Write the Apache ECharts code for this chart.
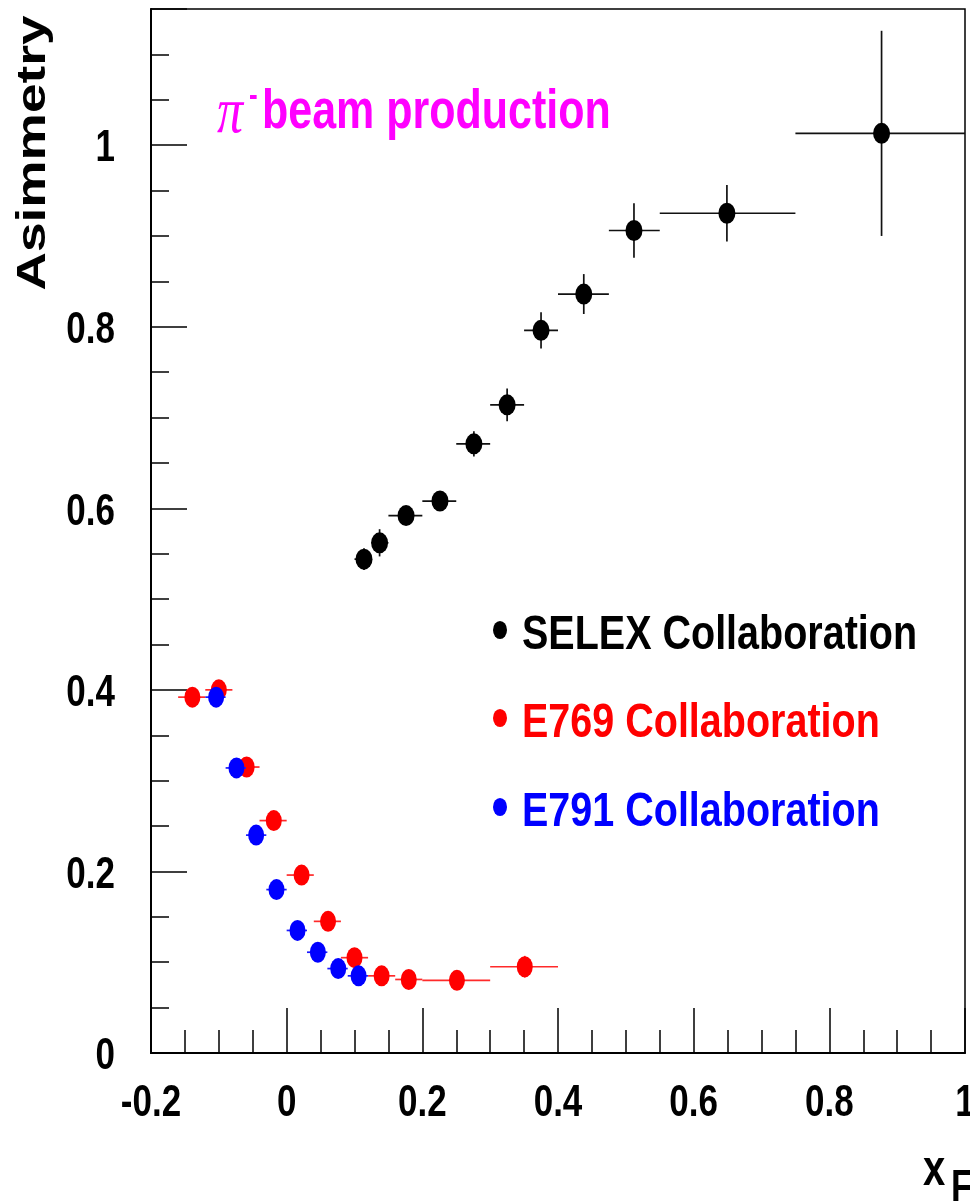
<!DOCTYPE html>
<html>
<head>
<meta charset="utf-8">
<script src="https://cdn.jsdelivr.net/npm/echarts@6/dist/echarts.min.js"></script>
<style>
html, body { margin: 0; padding: 0; background: #fff; }
#main { width: 970px; height: 1201px; }
</style>
</head>
<body>
<div id="main"></div>
<script>
// SELEX: xF bin centre, asymmetry, bin edges, statistical error
const selexX   = [0.114, 0.137, 0.176, 0.226, 0.276, 0.325, 0.375, 0.438, 0.512, 0.649, 0.877];
const selexY   = [0.544, 0.562, 0.592, 0.608, 0.671, 0.714, 0.796, 0.836, 0.906, 0.925, 1.013];
const selexXLo = [0.100, 0.125, 0.150, 0.200, 0.250, 0.300, 0.350, 0.400, 0.475, 0.550, 0.750];
const selexXHi = [0.125, 0.150, 0.200, 0.250, 0.300, 0.350, 0.400, 0.475, 0.550, 0.750, 1.000];
const selexErr = [0.012, 0.015, 0.008, 0.011, 0.014, 0.018, 0.020, 0.022, 0.030, 0.031, 0.113];

// E769
const e769X   = [-0.139, -0.100, -0.059, -0.019, 0.022, 0.061, 0.100, 0.140, 0.180, 0.251, 0.351];
const e769Y   = [0.392, 0.400, 0.315, 0.256, 0.196, 0.145, 0.105, 0.085, 0.081, 0.080, 0.095];
const e769XLo = [-0.16, -0.12, -0.08, -0.04, 0.00, 0.04, 0.08, 0.12, 0.16, 0.20, 0.30];
const e769XHi = [-0.12, -0.08, -0.04, 0.00, 0.04, 0.08, 0.12, 0.16, 0.20, 0.30, 0.40];
const e769Err = [0.006, 0.006, 0.006, 0.006, 0.006, 0.006, 0.006, 0.006, 0.006, 0.007, 0.012];

// E791
const e791X   = [-0.104, -0.074, -0.045, -0.015, 0.016, 0.046, 0.076, 0.106];
const e791Y   = [0.392, 0.314, 0.240, 0.180, 0.135, 0.111, 0.093, 0.085];
const e791XLo = [-0.12, -0.09, -0.06, -0.03, 0.00, 0.03, 0.06, 0.09];
const e791XHi = [-0.09, -0.06, -0.03, 0.00, 0.03, 0.06, 0.09, 0.12];
const e791Err = [0.005, 0.005, 0.005, 0.005, 0.005, 0.006, 0.008, 0.011];

// axis tick labels
const xTickValues = [-0.2, 0, 0.2, 0.4, 0.6, 0.8, 1];
const xTickLabels = ['-0.2', '0', '0.2', '0.4', '0.6', '0.8', '1'];
const yTickValues = [0, 0.2, 0.4, 0.6, 0.8, 1];
const yTickLabels = ['0', '0.2', '0.4', '0.6', '0.8', '1'];

const seriesNames = ['SELEX Collaboration', 'E769 Collaboration', 'E791 Collaboration'];
const seriesColors = ['#000000', '#ff0000', '#0000ff'];

const SANS = '"Liberation Sans", Arial, Helvetica, sans-serif';
const SERIF = '"Liberation Serif", "Times New Roman", serif';
const ELLIPSE = 'path://M1,0A1,1,0,1,1,-1,0A1,1,0,1,1,1,0Z';
const TALL = 1.27;   // vertical stretch of all lettering

function rows(x, y, lo, hi, err) {
  return x.map((v, i) => [v, y[i], lo[i], hi[i], err[i]]);
}

function errorBars(color) {
  return function (params, api) {
    const x = api.value(0), y = api.value(1);
    const c = api.coord([x, y]);
    const l = api.coord([api.value(2), y]);
    const r = api.coord([api.value(3), y]);
    const t = api.coord([x, y + api.value(4)]);
    const b = api.coord([x, y - api.value(4)]);
    const st = { stroke: color, lineWidth: 1.7 };
    return {
      type: 'group',
      children: [
        { type: 'line', shape: { x1: l[0], y1: c[1], x2: r[0], y2: c[1] }, style: st },
        { type: 'line', shape: { x1: c[0], y1: t[1], x2: c[0], y2: b[1] }, style: st }
      ]
    };
  };
}

const selexData = rows(selexX, selexY, selexXLo, selexXHi, selexErr);
const e769Data = rows(e769X, e769Y, e769XLo, e769XHi, e769Err);
const e791Data = rows(e791X, e791Y, e791XLo, e791XHi, e791Err);

function tallText(x, y, text, font, fill, align, vAlign, extra) {
  return Object.assign({
    type: 'text', x: x, y: y, scaleY: TALL, silent: true,
    style: { text: text, font: font, fill: fill, align: align || 'left', verticalAlign: vAlign || 'top' }
  }, extra || {});
}

// legend rows: marker + coloured caption
const legendTop = [612, 700, 789];
const legendGraphics = [];
seriesNames.forEach((n, i) => {
  legendGraphics.push({ type: 'circle', x: 500, y: legendTop[i] + 18, scaleY: 1.3, shape: { cx: 0, cy: 0, r: 7 }, style: { fill: seriesColors[i] }, silent: true });
  legendGraphics.push(tallText(522, legendTop[i], n, 'bold 39.5px ' + SANS, seriesColors[i], 'left', 'top', { scaleY: 1.2 }));
});

const chart = echarts.init(document.getElementById('main'), null, { renderer: 'canvas' });

const baseOption = {
  animation: false,
  backgroundColor: '#fff',
  grid: { left: 151, right: 5, top: 9, bottom: 148, show: true, borderColor: '#000', borderWidth: 1.5, containLabel: false, outerBoundsMode: 'none' },
  xAxis: [
    {
      type: 'value', min: -0.2, max: 1, interval: 0.2, position: 'bottom',
      axisLine: { show: true, onZero: false, lineStyle: { color: '#000', width: 2 } },
      axisTick: { show: true, inside: true, length: 45, lineStyle: { color: '#000', width: 1.5 } },
      axisLabel: { show: false },
      splitLine: { show: false }
    },
    {
      type: 'value', min: -0.2, max: 1, interval: 0.05, position: 'bottom',
      axisLine: { show: false, onZero: false },
      axisTick: { show: true, inside: true, length: 23, lineStyle: { color: '#000', width: 1.5 } },
      axisLabel: { show: false },
      splitLine: { show: false }
    }
  ],
  yAxis: [
    {
      type: 'value', min: 0, max: 1.15, interval: 0.2, position: 'left',
      axisLine: { show: true, onZero: false, lineStyle: { color: '#000', width: 2 } },
      axisTick: { show: true, inside: true, length: 36, lineStyle: { color: '#000', width: 1.5 } },
      axisLabel: { show: false },
      splitLine: { show: false }
    },
    {
      type: 'value', min: 0, max: 1.15, interval: 0.05, position: 'left',
      axisLine: { show: false, onZero: false },
      axisTick: { show: true, inside: true, length: 18, lineStyle: { color: '#000', width: 1.5 } },
      axisLabel: { show: false },
      splitLine: { show: false }
    }
  ],
  series: [
    { type: 'custom', name: 'e769-err', renderItem: errorBars('#ff2a2a'), data: e769Data, encode: { x: 0, y: 1 }, z: 2 },
    { type: 'scatter', name: seriesNames[1], data: e769Data, symbol: ELLIPSE, symbolSize: [16, 21], itemStyle: { color: '#ff0000', opacity: 1 }, z: 3 },
    { type: 'custom', name: 'e791-err', renderItem: errorBars('#1a1aff'), data: e791Data, encode: { x: 0, y: 1 }, z: 4 },
    { type: 'scatter', name: seriesNames[2], data: e791Data, symbol: ELLIPSE, symbolSize: [16, 21], itemStyle: { color: '#0000ff', opacity: 1 }, z: 5 },
    { type: 'custom', name: 'selex-err', renderItem: errorBars('#111'), data: selexData, encode: { x: 0, y: 1 }, z: 6 },
    { type: 'scatter', name: seriesNames[0], data: selexData, symbol: ELLIPSE, symbolSize: [17, 21], itemStyle: { color: '#000', opacity: 1 }, z: 7 }
  ]
};
chart.setOption(baseOption);

// tick labels placed at the axis positions of their values
const tickGraphics = [];
xTickValues.forEach((v, i) => {
  const px = chart.convertToPixel({ xAxisIndex: 0 }, v);
  tickGraphics.push(tallText(px, 1104, xTickLabels[i], 'bold 35px ' + SANS, '#000', 'center', 'middle'));
});
yTickValues.forEach((v, i) => {
  const py = chart.convertToPixel({ yAxisIndex: 0 }, v);
  tickGraphics.push(tallText(115, py + 4, yTickLabels[i], 'bold 35px ' + SANS, '#000', 'right', 'middle'));
});

chart.setOption({
  graphic: tickGraphics.concat(legendGraphics, [
    // beam label
    tallText(217, 82, 'π', 'italic 52px ' + SERIF, '#ff00ff'),
    tallText(249, 80, '-', 'bold 26px ' + SANS, '#ff00ff'),
    tallText(262, 86, 'beam production', 'bold 43px ' + SANS, '#ff00ff'),
    // axis titles
    { type: 'text', x: 34, y: 153, rotation: Math.PI / 2, scaleX: 1.33, silent: true,
      style: { text: 'Asimmetry', font: 'bold 40px ' + SANS, fill: '#000', align: 'center', verticalAlign: 'middle' } },
    tallText(923, 1146, 'x', 'bold 40px ' + SANS, '#000'),
    tallText(951, 1167, 'F', 'bold 35px ' + SANS, '#000')
  ])
});
</script>
</body>
</html>
